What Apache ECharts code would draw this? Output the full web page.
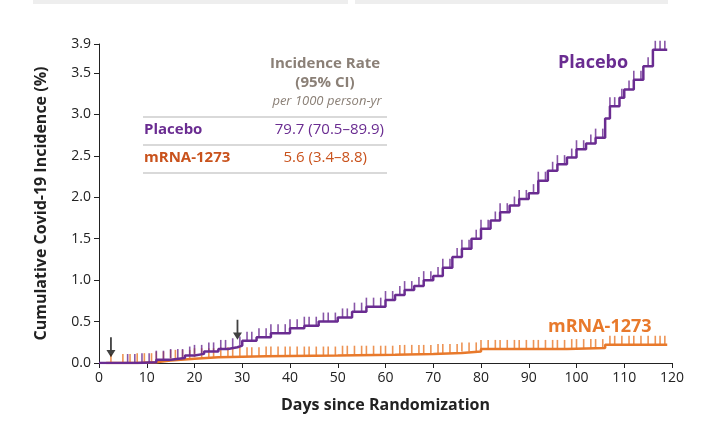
<!DOCTYPE html><html><head><meta charset="utf-8"><script src="https://cdn.jsdelivr.net/npm/echarts@6/dist/echarts.min.js"></script></head><body style="margin:0;background:#fff"><div id="c" style="width:706px;height:438px"></div><script>
const placeboSteps=[[0,0],[8,0.01],[12,0.04],[15,0.06],[18,0.09],[20,0.11],[22,0.14],[25,0.17],[27,0.19],[29,0.21],[30,0.27],[33,0.31],[36,0.36],[40,0.42],[43,0.45],[46,0.5],[50,0.55],[53,0.62],[56,0.68],[60,0.76],[62,0.82],[64,0.88],[66,0.93],[68,1.0],[70,1.05],[72,1.15],[74,1.28],[76,1.38],[78,1.5],[80,1.62],[82,1.72],[84,1.82],[86,1.9],[88,1.98],[90,2.05],[92,2.2],[94,2.32],[96,2.4],[98,2.48],[100,2.58],[102,2.65],[104,2.72],[106,2.95],[107,3.1],[109,3.2],[110,3.3],[112,3.42],[114,3.58],[116,3.78],[119,3.78]];
const mrnaSteps=[[1.5,0],[8,0.01],[12,0.03],[15,0.05],[20,0.07],[25,0.08],[35,0.09],[50,0.1],[62,0.11],[70,0.12],[76,0.14],[80,0.17],[98,0.18],[106,0.22],[119,0.22]];
const placeboCensor=[6,7.5,9,10.5,12,13.5,15,16.5,17.5,19,20,21.5,23,24,25.5,26.5,28,29.5,31,32,33.5,35,36,37.5,39,40,41.5,43,44,45.5,47,48,49.5,51,52,53.5,55,56,57.5,59,60,61.5,63,64,65.5,67,68,69.5,71,72,73.5,75,76,77.5,79,80,81.5,83,84,85.5,87,88,89.5,91,92,93.5,95,96,97.5,99,100,101.5,103,104,105.5,107,108,109.5,111,112,113.5,115,116.5,117.5,118.5];
const mrnaCensor=[2.5,5,6.5,8,9.5,11,12,13.5,15,16,17.5,19,20,21.5,23,24,25.5,27,28,29.5,31,32,33.5,35,36,37.5,39,40,41.5,43,44,45.5,47,48,49.5,51,52,53.5,55,56,57.5,59,60,61.5,63,64,65.5,67,68,69.5,71,72,73.5,75,76,77.5,79,80,81.5,83,84,85.5,87,88,89.5,91,92,93.5,95,96,97.5,99,100,101.5,103,104,105.5,107,108,109.5,111,112,113.5,115,116.5,117.5,118.5];
const arrowDays=[2.5,29];
const xTicks=[0,10,20,30,40,50,60,70,80,90,100,110,120];
const P='#6a2c91',O='#e8792b',OD='#c9521c',G='#8b8077';
function stepAt(s,d){let v=s[0][1];for(const p of s){if(p[0]<=d)v=p[1];}return v;}
const chart=echarts.init(document.getElementById('c'));
const tick=c=>({type:'scatter',symbol:'rect',symbolSize:[1.6,9],symbolOffset:[0,-4.5],itemStyle:{color:c},silent:true,z:3});
chart.setOption({animation:false,
grid:{left:99,right:34,top:44,bottom:75},
xAxis:{type:'value',min:0,max:120,interval:10,axisLine:{lineStyle:{color:'#222',width:1}},axisTick:{show:true,length:5,lineStyle:{color:'#222'}},splitLine:{show:false},axisLabel:{color:'#222',fontSize:14,fontFamily:'Open Sans',margin:8},
name:'Days since Randomization',nameLocation:'middle',nameGap:34,nameTextStyle:{fontSize:16,fontWeight:'bold',color:'#222',fontFamily:'Open Sans'}},
yAxis:{type:'value',min:0,max:3.85,interval:0.5,axisLine:{show:true,lineStyle:{color:'#222'}},axisTick:{show:true,length:5,lineStyle:{color:'#222'}},splitLine:{show:false},axisLabel:{color:'#222',fontSize:14,fontFamily:'Open Sans',formatter:v=>v.toFixed(1)},
name:'Cumulative Covid-19 Incidence (%)',nameLocation:'middle',nameGap:50,nameTextStyle:{fontSize:16,fontWeight:'bold',color:'#222',fontFamily:'Open Sans'}},
series:[
{type:'line',step:'end',data:mrnaSteps,symbol:'none',lineStyle:{color:O,width:2.5}},
Object.assign(tick(O),{data:mrnaCensor.map(d=>[d,stepAt(mrnaSteps,d)])}),
{type:'line',step:'end',data:placeboSteps,symbol:'none',lineStyle:{color:P,width:2.5},z:4},
Object.assign(tick(P),{data:placeboCensor.map(d=>[d,stepAt(placeboSteps,d)]),z:5}),
{type:'scatter',symbol:'path://M4 0L6 0L6 14L10 14L5 22L0 14L4 14Z',symbolSize:[9,20],symbolOffset:[0,-10],itemStyle:{color:'#111'},data:arrowDays.map(d=>[d,stepAt(placeboSteps,d)+0.07]),z:6}
]});
chart.setOption({graphic:[
{type:'rect',shape:{x:33,y:0,width:315,height:4},style:{fill:'#eeeeee'}},
{type:'rect',shape:{x:355,y:0,width:313,height:4},style:{fill:'#eeeeee'}},
{type:'text',x:325,y:56,style:{text:'Incidence Rate',fill:G,fontSize:15,fontFamily:'Open Sans',fontWeight:'bold',textAlign:'center'}},
{type:'text',x:325,y:75,style:{text:'(95% CI)',fill:G,fontSize:15,fontFamily:'Open Sans',fontWeight:'bold',textAlign:'center'}},
{type:'text',x:327,y:95,style:{text:'per 1000 person-yr',fill:G,fontSize:13,fontStyle:'italic',fontFamily:'Open Sans',textAlign:'center'}},
{type:'line',shape:{x1:143,y1:117,x2:387,y2:117},style:{stroke:'#ccc',lineWidth:1.5}},
{type:'line',shape:{x1:143,y1:145,x2:387,y2:145},style:{stroke:'#ccc',lineWidth:1.5}},
{type:'line',shape:{x1:143,y1:173,x2:387,y2:173},style:{stroke:'#ccc',lineWidth:1.5}},
{type:'text',x:144,y:122,style:{text:'Placebo',fill:P,fontSize:15,fontWeight:'bold',fontFamily:'Open Sans'}},
{type:'text',x:384,y:122,style:{text:'79.7 (70.5\u201389.9)',fill:P,fontSize:15,fontFamily:'Open Sans',textAlign:'right'}},
{type:'text',x:144,y:150,style:{text:'mRNA-1273',fill:OD,fontSize:15,fontWeight:'bold',fontFamily:'Open Sans'}},
{type:'text',x:367,y:150,style:{text:'5.6 (3.4\u20138.8)',fill:OD,fontSize:15,fontFamily:'Open Sans',textAlign:'right'}},
{type:'text',x:558,y:54,style:{text:'Placebo',fill:P,fontSize:18,fontWeight:'bold',fontFamily:'Open Sans'}},
{type:'text',x:548,y:318,style:{text:'mRNA-1273',fill:O,fontSize:18,fontWeight:'bold',fontFamily:'Open Sans'}}
]});
</script></body></html>
